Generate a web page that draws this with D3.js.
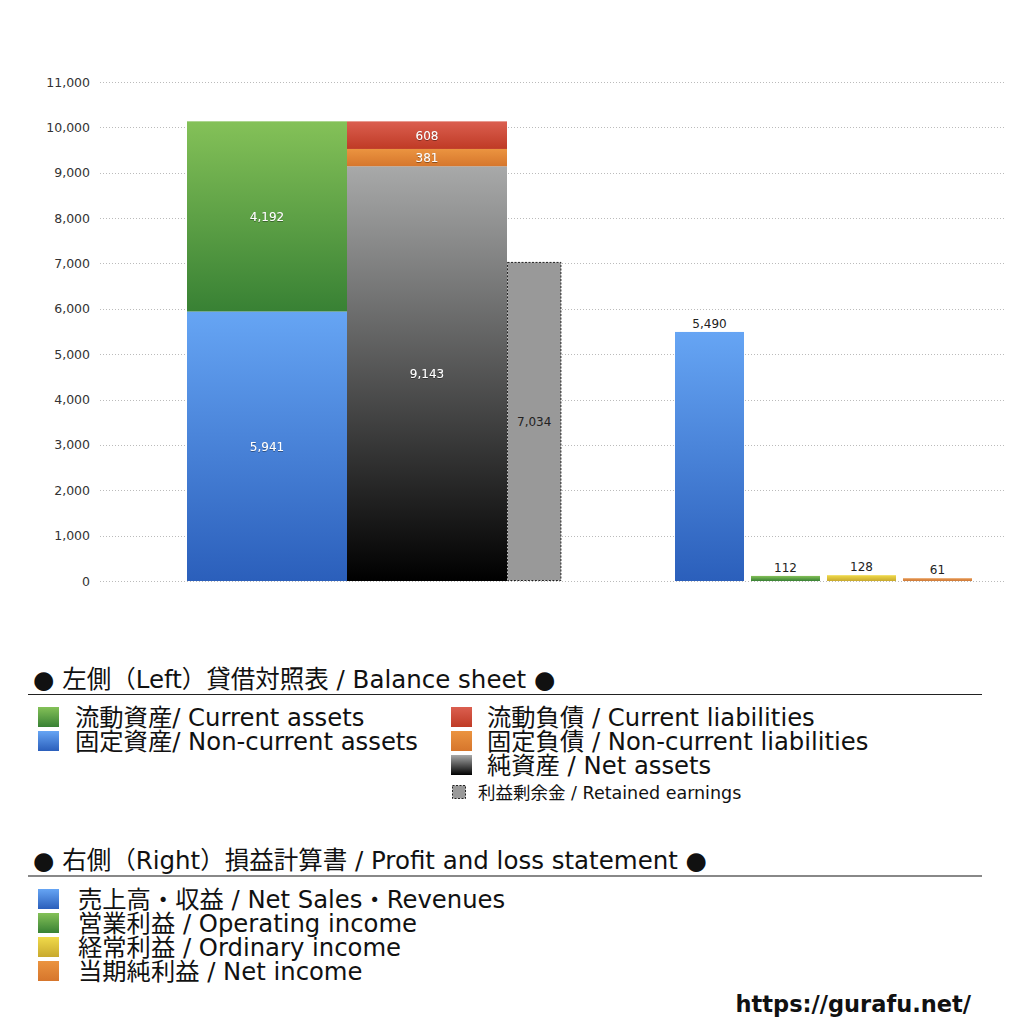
<!DOCTYPE html>
<html>
<head>
<meta charset="utf-8">
<script src="https://cdn.jsdelivr.net/npm/d3@7"></script>
<style>
  body { margin: 0; background: #fff; }
  svg text { font-family: "DejaVu Sans", "Noto Sans CJK JP", sans-serif; }
</style>
</head>
<body>
<svg id="chart" width="1024" height="1024"></svg>
<script>
// balance sheet (left side)
var assetNames = ['固定資産', '流動資産'];
var assetValues = [5941, 4192];
var liabNames = ['純資産', '固定負債', '流動負債'];
var liabValues = [9143, 381, 608];
var retainedEarnings = 7034;

// profit and loss (right side)
var plNames = ['売上高', '営業利益', '経常利益', '当期純利益'];
var plValues = [5490, 112, 128, 61];

var yTicks = [0, 1000, 2000, 3000, 4000, 5000, 6000, 7000, 8000, 9000, 10000, 11000];

var bsLegend = [
    ['流動資産/ Current assets', 'green'],
    ['固定資産/ Non-current assets', 'blue']
];
var bsLegend2 = [
    ['流動負債 /  Current liabilities', 'red'],
    ['固定負債 / Non-current liabilities', 'orange'],
    ['純資産 / Net assets', 'black']
];
var plLegend = [
    ['売上高・収益 / Net Sales・Revenues', 'blue'],
    ['営業利益 / Operating income', 'green'],
    ['経常利益 / Ordinary income', 'yellow'],
    ['当期純利益 / Net income', 'orange']
];

var svg = d3.select('#chart');
var defs = svg.append('defs');

// vertical gradients used for the bars
var grads = {
    blue: ['#66a5f4', '#2b5fbb'],
    green: ['#84c158', '#388134'],
    black: ['#a8a9a9', '#000000'],
    red: ['#db5f50', '#bf3a25'],
    orange: ['#eb9440', '#d6762c'],
    yellow: ['#f0da4a', '#c8a92e'],
    netorange: ['#e69650', '#cf7a37']
};
Object.keys(grads).forEach(function (k) {
    var g = defs.append('linearGradient')
        .attr('id', 'g-' + k)
        .attr('x1', 0).attr('y1', 0).attr('x2', 0).attr('y2', 1);
    g.append('stop').attr('offset', '0%').attr('stop-color', grads[k][0]);
    g.append('stop').attr('offset', '100%').attr('stop-color', grads[k][1]);
});
var shadow = defs.append('filter').attr('id', 'txtshadow');
shadow.append('feDropShadow').attr('dx', 0).attr('dy', 0.6)
    .attr('stdDeviation', 0.6).attr('flood-color', '#000').attr('flood-opacity', 0.6);

var y = d3.scaleLinear().domain([0, 11000]).range([581, 82]);

var xBS = d3.scaleBand().domain(['assets', 'liab']).range([187, 507]).padding(0);
var xPL = d3.scaleBand().domain(plNames).range([675, 972]).paddingInner(7 / 76).paddingOuter(0);

// grid lines
svg.append('g')
    .selectAll('line')
    .data(yTicks)
    .enter()
    .append('line')
    .attr('x1', 100).attr('x2', 1006)
    .attr('y1', function (d) { return Math.round(y(d)) + 0.5; })
    .attr('y2', function (d) { return Math.round(y(d)) + 0.5; })
    .attr('stroke', '#bbb')
    .attr('stroke-width', 1)
    .attr('stroke-dasharray', '1,2');

// y axis labels
var yAxis = d3.axisLeft(y).tickValues(yTicks).tickSize(0).tickPadding(0)
    .tickFormat(d3.format(','));
svg.append('g')
    .attr('transform', 'translate(90,0)')
    .call(yAxis)
    .call(function (g) { g.select('.domain').remove(); })
    .selectAll('text')
    .attr('font-size', 12.5)
    .attr('fill', '#333')
    .attr('font-family', '"DejaVu Sans", sans-serif');

function stack(values) {
    var acc = 0;
    return values.map(function (v) {
        var seg = { y0: acc, y1: acc + v, v: v };
        acc += v;
        return seg;
    });
}

// assets column
var assetColors = ['blue', 'green'];
var assetSegs = stack(assetValues);
svg.append('g').selectAll('rect')
    .data(assetSegs)
    .enter()
    .append('rect')
    .attr('x', xBS('assets'))
    .attr('width', xBS.bandwidth())
    .attr('y', function (d) { return y(d.y1); })
    .attr('height', function (d) { return y(d.y0) - y(d.y1); })
    .attr('fill', function (d, i) { return 'url(#g-' + assetColors[i] + ')'; });

// liabilities + net assets column
var liabColors = ['black', 'orange', 'red'];
var liabSegs = stack(liabValues);
svg.append('g').selectAll('rect')
    .data(liabSegs)
    .enter()
    .append('rect')
    .attr('x', xBS('liab'))
    .attr('width', xBS.bandwidth())
    .attr('y', function (d) { return y(d.y1); })
    .attr('height', function (d) { return y(d.y0) - y(d.y1); })
    .attr('fill', function (d, i) { return 'url(#g-' + liabColors[i] + ')'; });

// retained earnings, narrow dashed bar next to net assets
var reX = xBS('liab') + xBS.bandwidth();
var reW = xBS.bandwidth() * 0.34;
svg.append('rect')
    .attr('x', reX + 0.5)
    .attr('y', y(retainedEarnings) + 0.5)
    .attr('width', reW - 1)
    .attr('height', y(0) - y(retainedEarnings) - 1)
    .attr('fill', '#999')
    .attr('stroke', '#222')
    .attr('stroke-width', 1)
    .attr('stroke-dasharray', '2,1.5');

// segment labels (white)
var fmt = d3.format(',');
function segLabels(segs, x) {
    svg.append('g').selectAll('text')
        .data(segs)
        .enter()
        .append('text')
        .attr('x', x)
        .attr('y', function (d) { return (y(d.y0) + y(d.y1)) / 2 + 4.5; })
        .attr('text-anchor', 'middle')
        .attr('font-size', 12)
        .attr('fill', '#fff')
        .attr('filter', 'url(#txtshadow)')
        .text(function (d) { return fmt(d.v); });
}
segLabels(assetSegs, xBS('assets') + xBS.bandwidth() / 2);
segLabels(liabSegs, xBS('liab') + xBS.bandwidth() / 2);

svg.append('text')
    .attr('x', reX + reW / 2)
    .attr('y', (y(0) + y(retainedEarnings)) / 2 + 4.5)
    .attr('text-anchor', 'middle')
    .attr('font-size', 12)
    .attr('fill', '#222')
    .text(fmt(retainedEarnings));

// P&L bars
var plColors = ['blue', 'green', 'yellow', 'netorange'];
var plBars = svg.append('g').selectAll('g')
    .data(plValues)
    .enter()
    .append('g');
plBars.append('rect')
    .attr('x', function (d, i) { return xPL(plNames[i]); })
    .attr('width', xPL.bandwidth())
    .attr('y', function (d) { return y(d); })
    .attr('height', function (d) { return y(0) - y(d); })
    .attr('fill', function (d, i) { return 'url(#g-' + plColors[i] + ')'; });
plBars.append('text')
    .attr('x', function (d, i) { return xPL(plNames[i]) + xPL.bandwidth() / 2; })
    .attr('y', function (d) { return y(d) - 4; })
    .attr('text-anchor', 'middle')
    .attr('font-size', 12)
    .attr('fill', '#222')
    .text(function (d) { return fmt(d); });

// legends
function legendHeader(text, yBase, lineY, lineColor, lineW) {
    svg.append('text')
        .attr('x', 33).attr('y', yBase)
        .attr('font-size', 24.5)
        .attr('fill', '#111')
        .text(text);
    svg.append('line')
        .attr('x1', 28).attr('x2', 982)
        .attr('y1', lineY).attr('y2', lineY)
        .attr('stroke', lineColor)
        .attr('stroke-width', lineW);
}

function legendItems(items, x, textX, top, step) {
    var g = svg.append('g').selectAll('g')
        .data(items)
        .enter()
        .append('g')
        .attr('transform', function (d, i) { return 'translate(0,' + (top + i * step) + ')'; });
    g.append('rect')
        .attr('x', x).attr('y', -10)
        .attr('width', 21).attr('height', 20)
        .attr('fill', function (d) { return 'url(#g-' + d[1] + ')'; });
    g.append('text')
        .attr('x', textX).attr('y', 8.5)
        .attr('font-size', 24.3)
        .attr('fill', '#111')
        .text(function (d) { return d[0]; });
}

legendHeader('● 左側（Left）貸借対照表 / Balance sheet ●', 688, 694.5, '#222', 1.2);
legendItems(bsLegend, 38, 75, 717, 24);
legendItems(bsLegend2, 451, 487, 717, 24);

// retained earnings legend entry
svg.append('rect')
    .attr('x', 452.5).attr('y', 785.5)
    .attr('width', 13).attr('height', 13)
    .attr('fill', '#999')
    .attr('stroke', '#222')
    .attr('stroke-dasharray', '2,1.5');
svg.append('text')
    .attr('x', 478).attr('y', 799)
    .attr('font-size', 17.5)
    .attr('fill', '#111')
    .text('利益剰余金 / Retained earnings');

legendHeader('● 右側（Right）損益計算書 / Profit and loss statement ●', 869, 876, '#888', 2);
legendItems(plLegend, 38, 78, 899, 24);

svg.append('text')
    .attr('x', 971).attr('y', 1012)
    .attr('text-anchor', 'end')
    .attr('font-size', 22.5)
    .attr('font-weight', 'bold')
    .attr('fill', '#111')
    .text('https://gurafu.net/');
</script>
</body>
</html>
